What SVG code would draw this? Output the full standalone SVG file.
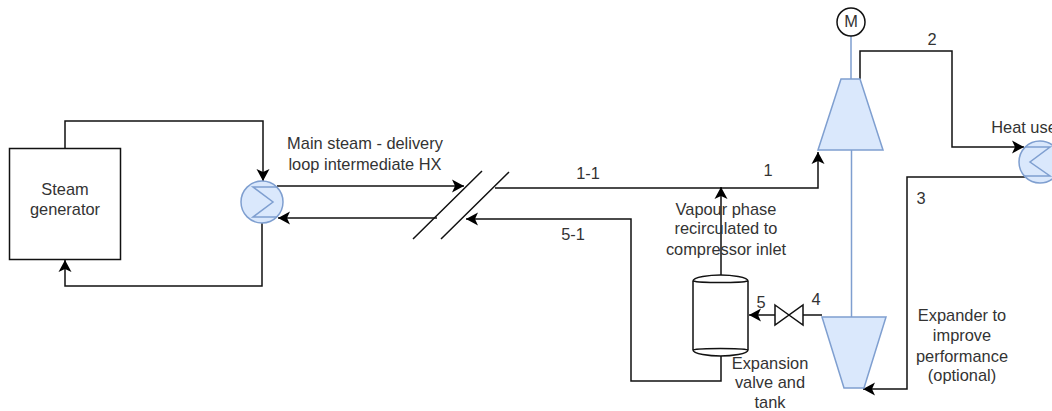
<svg xmlns="http://www.w3.org/2000/svg" width="1052" height="411" viewBox="0 0 1052 411">
<style>
text{font-family:"Liberation Sans",Arial,sans-serif;font-size:16.400px;fill:#333;text-anchor:middle}
.c{fill:none;stroke:#111;stroke-width:1.5}
.b{fill:#dae8fc;stroke:#7f9fd0;stroke-width:1.5}
.s{fill:none;stroke:#7f9fd0;stroke-width:1.5}
.k{fill:#fff;stroke:#111;stroke-width:1.5}
</style>
<defs>
<marker id="a" markerUnits="userSpaceOnUse" markerWidth="13" markerHeight="14" refX="12" refY="7" orient="auto"><path d="M0 0.500L12 7L0 13.500L3 7Z" fill="#000"/></marker>
</defs>
<rect width="1052" height="411" fill="#fff"/>
<g id="connectors">
<path class="c" d="M65 148V121H263V181" marker-end="url(#a)"/>
<path class="c" d="M262 223V286H65V260" marker-end="url(#a)"/>
<path class="c" d="M277 186H464" marker-end="url(#a)"/>
<path class="c" d="M437 218H278" marker-end="url(#a)"/>
<path class="c" d="M495 188H818V152" marker-end="url(#a)"/>
<path class="c" d="M721 275V187" marker-end="url(#a)"/>
<path class="c" d="M860 79V51H952V147H1024" marker-end="url(#a)"/>
<path class="c" d="M1028 177H907V389H863" marker-end="url(#a)"/>
<path class="c" d="M822 315H803"/>
<path class="c" d="M775 315H749" marker-end="url(#a)"/>
<path class="c" d="M721 356V381H631V219H466" marker-end="url(#a)"/>
<path class="c" d="M413 239L482 171M441 239L509 172"/>
<path class="s" d="M851 35V79M851.500 150V317"/>
</g>
<g id="steam-generator"><rect class="k" x="9.500" y="148.500" width="111" height="111"/><text x="65" y="195">Steam</text><text x="65" y="215">generator</text></g>
<g id="intermediate-hx"><circle class="b" cx="262" cy="202" r="21"/><path class="s" d="M277 187H253L273 202L253 217H277"/></g>
<g id="heat-use-hx"><circle class="b" cx="1040" cy="162" r="21"/><path class="s" d="M1025 147H1050L1030 162L1050 176H1025"/></g>
<g id="compressor"><path class="b" d="M841 79H860L883 150H818Z"/></g>
<g id="motor"><circle cx="851" cy="22" r="14" fill="#fff" stroke="#111" stroke-width="1.500"/><text x="851" y="27">M</text></g>
<g id="expander"><path class="b" d="M822 317H886L864 388H844Z"/></g>
<g id="valve"><path class="k" d="M775 305L803 325V305L775 325Z"/></g>
<g id="tank"><path class="k" d="M693 281C693 277 710 275 720.500 275C731 275 748 277 748 281V350C748 354 731 356 720.500 356C710 356 693 354 693 350Z"/><path class="c" d="M693 281C700 283 741 283 748 281M693 350C700 348 741 348 748 350"/></g>
<g id="labels">
<text x="365" y="149">Main steam - delivery</text><text x="365" y="170">loop intermediate HX</text>
<text x="588" y="179">1-1</text><text x="768" y="176">1</text><text x="932" y="45">2</text><text x="921" y="204">3</text>
<text x="816" y="305">4</text><text x="761" y="308">5</text><text x="573" y="240">5-1</text>
<text x="726" y="215">Vapour phase</text><text x="726" y="234">recirculated to</text><text x="726" y="255">compressor inlet</text>
<text x="770" y="369">Expansion</text><text x="770" y="388">valve and</text><text x="770" y="408">tank</text>
<text x="962" y="321">Expander to</text><text x="962" y="341">improve</text><text x="962" y="362">performance</text><text x="962" y="381">(optional)</text>
<text x="1024" y="133">Heat use</text>
</g>
</svg>
